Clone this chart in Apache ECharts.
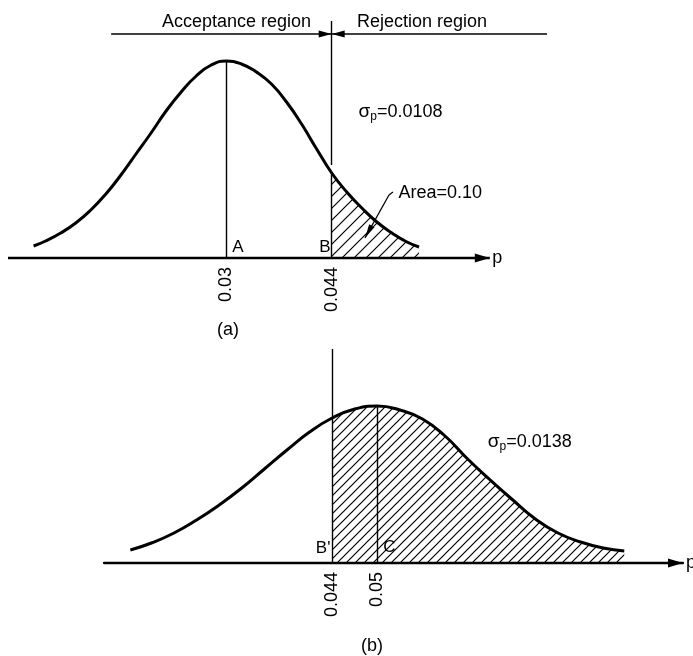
<!DOCTYPE html>
<html>
<head>
<meta charset="utf-8">
<script src="https://cdn.jsdelivr.net/npm/echarts@6/dist/echarts.min.js"></script>
<style>
    html, body { margin: 0; padding: 0; background: #fff; }
    #chart { width: 693px; height: 656px; }
</style>
</head>
<body>
<div id="chart"></div>
<script>
// (a) sampling distribution when p = 0.03 (sigma 0.0108); heights, px above the axis
var pA = [0.0044, 0.006, 0.008, 0.010, 0.012, 0.014, 0.016, 0.018, 0.020, 0.022, 0.024, 0.026, 0.028, 0.030,
          0.032, 0.034, 0.036, 0.038, 0.040, 0.042, 0.044, 0.046, 0.048, 0.050, 0.052, 0.054, 0.0556];
var hA = [12, 17, 25, 35, 48, 64, 83, 104, 125, 147, 166, 182, 193, 197,
          194, 186, 174, 156, 134, 109, 85, 66, 50, 36, 25, 16, 11];
// (b) sampling distribution when p = 0.05 (sigma 0.0138)
var pB = [0.0172, 0.020, 0.023, 0.026, 0.029, 0.032, 0.035, 0.038, 0.041, 0.044, 0.047, 0.050,
          0.053, 0.056, 0.059, 0.062, 0.065, 0.068, 0.071, 0.074, 0.077, 0.080, 0.0828];
var hB = [13, 20, 30, 43, 58, 75, 94, 113, 131, 145, 154, 157,
          153, 144, 127, 104, 83, 63, 44, 30, 21, 15, 12];
var ticksA = [0.03, 0.044];
var ticksB = [0.044, 0.05];
var critical = 0.044;

(function() {
    var black = "#000";
    var font = "Liberation Sans";

    function pairs(xs, ys) {
        return xs.map(function(x, i) { return [x, ys[i]]; });
    }
    function tail(xs, ys, from) {
        return pairs(xs, ys).filter(function(d) { return d[0] >= from; });
    }
    function heightAt(xs, ys, x) {
        return ys[xs.indexOf(x)];
    }
    // "/" hatching tile
    function hatch(step) {
        var c = document.createElement("canvas");
        c.width = step;
        c.height = step;
        var ctx = c.getContext("2d");
        ctx.strokeStyle = black;
        ctx.lineWidth = 1.2;
        ctx.beginPath();
        ctx.moveTo(0, step); ctx.lineTo(step, 0);
        ctx.moveTo(-step / 2, step / 2); ctx.lineTo(step / 2, -step / 2);
        ctx.moveTo(step / 2, step * 1.5); ctx.lineTo(step * 1.5, step / 2);
        ctx.stroke();
        return c;
    }
    function seg(from, to, width) {
        return [{ coord: from, lineStyle: { width: width } }, { coord: to }];
    }
    // tip of the triangle sits on the end point
    function arrow(from, to, width, size) {
        return [
            { coord: from, lineStyle: { width: width } },
            { coord: to, symbol: "triangle", symbolSize: size, symbolOffset: [0, size[1] / 2] }
        ];
    }
    function txt(coord, str, pos, size) {
        var label = { formatter: str, position: pos || "inside", distance: 0 };
        if (size) label.fontSize = size;
        return { coord: coord, label: label };
    }
    var markLineBase = {
        silent: true,
        symbol: "none",
        animation: false,
        label: { show: false },
        emphasis: { disabled: true },
        lineStyle: { color: black, type: "solid", width: 1.4 }
    };
    var markPointBase = {
        silent: true,
        symbol: "circle",
        symbolSize: 1,
        animation: false,
        itemStyle: { color: "rgba(0,0,0,0)" },
        label: {
            show: true,
            color: black,
            fontSize: 17,
            fontFamily: font,
            rich: {
                s: { fontSize: 19, fontFamily: font, color: black },
                b: { fontSize: 12, fontFamily: font, color: black, padding: [9, 0, 0, 0] },
                t: { fontSize: 18, fontFamily: font, color: black }
            }
        }
    };
    function axisLabel(values) {
        return {
            customValues: values,
            rotate: 90,
            margin: 9,
            color: black,
            fontSize: 18,
            fontFamily: font,
            formatter: function(v) { return String(v); }
        };
    }

    var peakA = heightAt(pA, hA, 0.03);
    var critA = heightAt(pA, hA, critical);
    var peakB = heightAt(pB, hB, 0.05);

    let myChart = echarts.init(document.getElementById("chart"));
    let option = {
        animation: false,
        color: [black],
        grid: [
            { left: 8, top: 21, width: 539, height: 237, outerBoundsMode: "none" },
            { left: 104, top: 349, width: 579, height: 214, outerBoundsMode: "none" }
        ],
        xAxis: [{
            gridIndex: 0,
            type: "value",
            min: 0.001,
            max: 0.0726,
            axisLine: { show: false },
            axisTick: { show: false },
            splitLine: { show: false },
            axisLabel: axisLabel(ticksA)
        }, {
            gridIndex: 1,
            type: "value",
            min: 0.0137,
            max: 0.0906,
            axisLine: {
                lineStyle: { color: black, width: 2.3 },
                symbol: ["none", "triangle"],
                symbolSize: [9, 15],
                symbolOffset: [0, -7.5]
            },
            axisTick: { show: false },
            splitLine: { show: false },
            axisLabel: axisLabel(ticksB),
            name: "p",
            nameLocation: "end",
            nameGap: 3,
            nameTextStyle: { color: black, fontSize: 18, fontFamily: font }
        }],
        yAxis: [
            { gridIndex: 0, type: "value", min: 0, max: 237, show: false },
            { gridIndex: 1, type: "value", min: 0, max: 214, show: false }
        ],
        series: [{
            name: "tail a",
            type: "line",
            xAxisIndex: 0,
            yAxisIndex: 0,
            data: tail(pA, hA, critical),
            smooth: true,
            symbol: "none",
            silent: true,
            clip: false,
            z: 2,
            lineStyle: { width: 0 },
            areaStyle: { color: { image: hatch(12), repeat: "repeat" }, opacity: 1 }
        }, {
            name: "p = 0.03",
            type: "line",
            xAxisIndex: 0,
            yAxisIndex: 0,
            data: pairs(pA, hA),
            smooth: true,
            symbol: "none",
            silent: true,
            clip: false,
            z: 5,
            lineStyle: { color: black, width: 3 },
            markLine: Object.assign({}, markLineBase, {
                data: [
                    arrow([0.001, 0], [0.065, 0], 2.3, [9, 15]),
                    seg([0.03, 0], [0.03, peakA], 1.4),
                    seg([critical, 0], [critical, critA], 1.4),
                    seg([critical, 93], [critical, 237], 1.4),
                    arrow([0.0147, 224], [critical, 224], 1.7, [7, 13]),
                    arrow([0.0726, 224], [critical, 224], 1.7, [7, 13]),
                    // leader from "Area=0.10": small hook, then down to the arrow
                    seg([0.05214, 66], [0.05161, 63], 1.3),
                    arrow([0.05161, 63], [0.04842, 20], 1.3, [6, 14])
                ]
            }),
            markPoint: Object.assign({}, markPointBase, {
                data: [
                    txt([0.03135, 236], "Acceptance region", "inside", 18),
                    txt([0.0560, 236], "Rejection region", "inside", 18),
                    txt([0.0475, 146], "{s|σ}{b|p}{t|=0.0108}", "right"),
                    txt([0.0528, 65], "Area=0.10", "right", 18),
                    txt([0.03155, 11], "A"),
                    txt([0.0431, 11], "B"),
                    txt([0.066, 0], "p", "inside", 18)
                ]
            })
        }, {
            name: "tail b",
            type: "line",
            xAxisIndex: 1,
            yAxisIndex: 1,
            data: tail(pB, hB, critical),
            smooth: true,
            symbol: "none",
            silent: true,
            clip: false,
            z: 2,
            lineStyle: { width: 0 },
            areaStyle: { color: { image: hatch(9), repeat: "repeat" }, opacity: 1 }
        }, {
            name: "p = 0.05",
            type: "line",
            xAxisIndex: 1,
            yAxisIndex: 1,
            data: pairs(pB, hB),
            smooth: true,
            symbol: "none",
            silent: true,
            clip: false,
            z: 5,
            lineStyle: { color: black, width: 3 },
            markLine: Object.assign({}, markLineBase, {
                data: [
                    seg([critical, 0], [critical, 214], 1.4),
                    seg([0.05, 0], [0.05, peakB], 1.4)
                ]
            }),
            markPoint: Object.assign({}, markPointBase, {
                data: [
                    txt([0.0428, 15], "B'"),
                    txt([0.0516, 16], "C"),
                    txt([0.0646, 121], "{s|σ}{b|p}{t|=0.0138}", "right")
                ]
            })
        }],
        graphic: [{
            type: "text",
            x: 228,
            y: 330,
            style: { text: "(a)", align: "center", verticalAlign: "middle", fill: black, font: "18px 'Liberation Sans'" }
        }, {
            type: "text",
            x: 372,
            y: 646,
            style: { text: "(b)", align: "center", verticalAlign: "middle", fill: black, font: "18px 'Liberation Sans'" }
        }]
    };
    myChart.setOption(option);
    window.addEventListener("resize", function() {
        myChart.resize();
    });
})();
</script>
</body>
</html>
